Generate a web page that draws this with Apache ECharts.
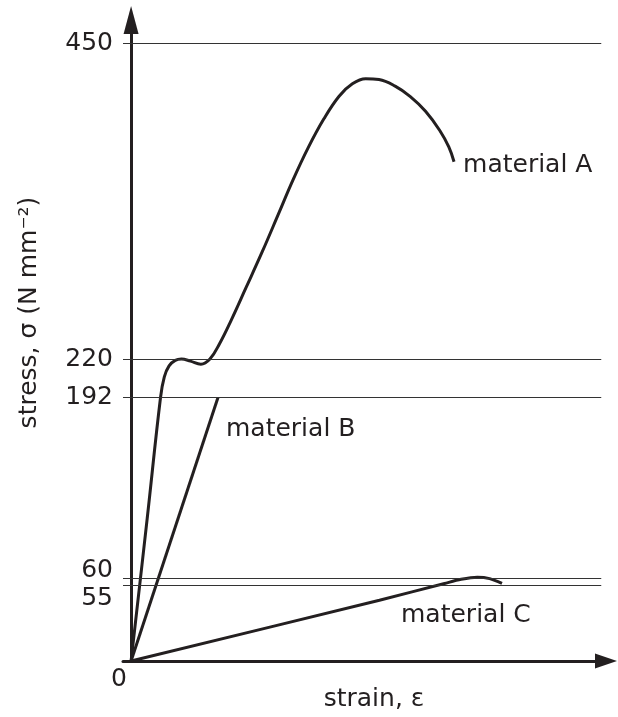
<!DOCTYPE html>
<html>
<head>
<meta charset="utf-8">
<script src="https://cdn.jsdelivr.net/npm/echarts@6/dist/echarts.min.js"></script>
<style>
  html, body { margin: 0; padding: 0; background: #fff; }
  #chart { width: 618px; height: 717px; }
</style>
</head>
<body>
<div id="chart"></div>
<script>
// stress values marked on the y axis
const yTicks = [450, 220, 192, 60, 55]

// strain in arbitrary units (no scale on the picture), stress in N mm^-2
const materialA = [
    [0, 0], [3.4, 104], [6.2, 192], [7.0, 207], [8.0, 215], [9.3, 219], [10.6, 220],
    [12.5, 218.5], [14.7, 216.2], [16.6, 220], [18.6, 231], [20.85, 246.6],
    [24.2, 272], [27.6, 298], [30.95, 325], [34.1, 350.5], [37.3, 374],
    [40.6, 395], [43.8, 411.5], [46.6, 420.5], [49.4, 424.2], [52.2, 423.6],
    [55.6, 418.8], [58.8, 411.2], [62.0, 400.5], [65.0, 386.5], [66.9, 374.5], [68.0, 363.7]
]
const materialB = [[0, 0], [18.3, 192]]
const materialC = [
    [0, 0], [52.3, 44.3], [66.0, 56.5], [69.5, 59.5], [72.9, 61], [75.5, 60], [78.1, 56.5]
]

const ink = '#231f20'
const font = 'DejaVu Sans'
const fs = 25

// the two close lines at 60 / 55 get their labels pushed apart
const tickAlign = {
    60: { verticalAlign: 'bottom', lineHeight: 16 },
    55: { verticalAlign: 'top', lineHeight: 25 }
}

var chart = echarts.init(document.getElementById('chart'))

const lineSeries = (name, data, extra) => Object.assign({
    type: 'line',
    name: name,
    data: data,
    showSymbol: false,
    symbol: 'none',
    smooth: 0.4,
    clip: false,
    lineStyle: { color: ink, width: 3 },
    endLabel: {
        show: true,
        formatter: name,
        color: ink,
        fontFamily: font,
        fontSize: fs
    }
}, extra)

let option = {
    animation: false,
    grid: { left: 123, right: 12, top: 20, bottom: 55 },
    xAxis: {
        type: 'value',
        min: -1.7,
        max: 100,
        name: 'strain, ε',
        nameLocation: 'middle',
        nameGap: 26,
        nameTextStyle: { color: ink, fontFamily: font, fontSize: fs, padding: [0, 0, 0, 19] },
        axisLine: {
            onZero: true,
            symbol: ['none', 'triangle'],
            symbolSize: [15, 22],
            lineStyle: { color: ink, width: 3 }
        },
        axisTick: { show: false },
        axisLabel: { show: false },
        splitLine: { show: false }
    },
    yAxis: {
        type: 'value',
        min: 0,
        max: 467,
        name: 'stress, σ (N mm⁻²)',
        nameLocation: 'middle',
        nameGap: 81,
        nameTextStyle: { color: ink, fontFamily: font, fontSize: fs, padding: [0, 0, 0, 56] },
        axisLine: {
            onZero: true,
            symbol: ['none', 'triangle'],
            symbolSize: [15, 28],
            lineStyle: { color: ink, width: 3 }
        },
        axisTick: { show: false },
        axisLabel: { show: false },
        splitLine: { show: false }
    },
    series: [
        lineSeries('material A', materialA, {
            z: 3,
            markLine: {
                silent: true,
                symbol: ['none', 'none'],
                lineStyle: { color: '#333', width: 1, type: 'solid' },
                label: {
                    position: 'start',
                    distance: 10,
                    color: ink,
                    fontFamily: font,
                    fontSize: fs
                },
                data: yTicks.map(v => [
                    { coord: [-1.7, v], label: Object.assign({ formatter: String(v) }, tickAlign[v] || {}) },
                    { coord: [99, v] }
                ])
            }
        }),
        lineSeries('material B', materialB, {
            smooth: false,
            z: 3,
            markPoint: {
                symbol: 'circle',
                symbolSize: 1,
                itemStyle: { color: 'rgba(0,0,0,0)' },
                data: [{ coord: [0, 0] }],
                label: {
                    show: true,
                    position: 'inside',
                    formatter: '0',
                    offset: [-12, 18],
                    color: ink,
                    fontFamily: font,
                    fontSize: fs
                }
            }
        }),
        lineSeries('material C', materialC, { z: 3, smooth: 0.3 })
    ]
}

// label placement relative to each curve's end point
option.series[0].endLabel.distance = 9
option.series[0].endLabel.offset = [0, 4]
option.series[1].endLabel.offset = [0, 32]
option.series[2].endLabel.offset = [-109, 32]

chart.setOption(option)
</script>
</body>
</html>
